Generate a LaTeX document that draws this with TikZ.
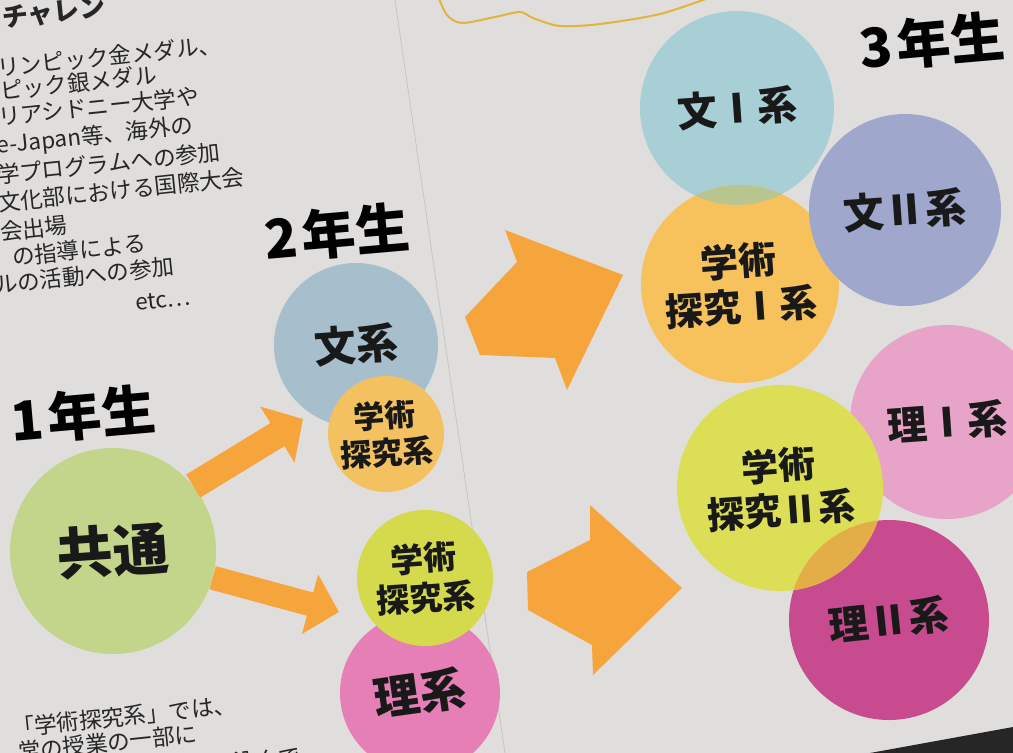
\documentclass[tikz,border=0pt]{standalone}
\usepackage{fontspec}
\newfontfamily\jp{Noto Sans CJK JP}
\usetikzlibrary{arrows.meta}

\definecolor{paper}{HTML}{E0DEDC}
\definecolor{seamc}{HTML}{C9C3C0}
\definecolor{arrowc}{HTML}{F6A53D}
\definecolor{kyotsuc}{HTML}{C2D58A}
\definecolor{bunc}{HTML}{A7BFCC}
\definecolor{gakuoc}{HTML}{F3C160}
\definecolor{gakugc}{HTML}{D5D94C}
\definecolor{ric}{HTML}{E67FB5}
\definecolor{bunic}{HTML}{A8CED6}
\definecolor{gakuic}{HTML}{F7C25C}
\definecolor{lensic}{HTML}{B8C58E}
\definecolor{buniic}{HTML}{9FA7CC}
\definecolor{riic}{HTML}{E8A3C8}
\definecolor{gakuiic}{HTML}{DCDF55}
\definecolor{riiic}{HTML}{C84B8F}
\definecolor{lensiic}{HTML}{E3AD48}
\definecolor{squigc}{HTML}{E2B43C}

\newcommand\jsize[2]{\fontsize{#1}{#2}\selectfont}

\begin{document}
\begin{tikzpicture}[x=1pt,y=-1pt]
 \tikzset{
   % coloured discs
   bubble/.style={circle,inner sep=0pt,minimum size=#1,align=center,text=black!90},
   big/.style={font=\jp\bfseries\jsize{#1}{1.2\dimexpr#1pt\relax}},
   % year headings
   nen/.style={font=\jp\bfseries\jsize{54}{60},inner sep=0pt,rotate=5},
   % hand written notes
   memo/.style={anchor=west,inner sep=0pt,rotate=6,font=\jp\jsize{22.5}{26},text=black!85},
   pfeil/.style={draw=arrowc,line width=#1},
 }
 \useasboundingbox (0,0) rectangle (1013,753);
 \clip (0,0) rectangle (1013,753);
 \fill[paper] (0,0) rectangle (1013,753);
 \draw[seamc,line width=0.8pt] (395,0) -- (505,753);
 \fill[black!85] (870,753) -- (1013,727) -- (1013,760) -- (860,760) -- cycle;
 \draw[squigc,line width=2pt,line cap=round] plot[smooth] coordinates
   {(438,-4) (447,15) (462,23) (495,17) (520,12) (533,18) (560,26) (600,24) (660,14) (714,-4)};

 % notes on the left
 \node[memo,font=\jp\bfseries\jsize{26}{30}] (m0) at (2,18) {チャレン};
 \node[memo] (m1) at (-3,68) {リンピック金メダル、};
 \node[memo] (m2) at (0,91) {ピック銀メダル};
 \node[memo] (m3) at (-2,117) {リアシドニー大学や};
 \node[memo] (m4) at (-3,147) {e-Japan等、海外の};
 \node[memo] (m5) at (-3,175) {学プログラムへの参加};
 \node[memo] (m6) at (-2,203) {文化部における国際大会};
 \node[memo] (m7) at (0,232) {会出場};
 \node[memo] (m8) at (12,257) {の指導による};
 \node[memo] (m9) at (-5,285) {ルの活動への参加};
 \node[memo] (m10) at (135,303) {etc…};
 \node[memo] (m11) at (12,728) {「学術探究系」では、};
 \node[memo] (m12) at (18,752) {常の授業の一部に};
 \node[memo] (m13) at (212,765) {り込んで、};

 % year headings
 \node[nen] (y1) at (83,415) {1\kern5pt 年生};
 \node[nen] (y2) at (337,233) {2\kern5pt 年生};
 \node[nen] (y3) at (932,42) {3\kern5pt 年生};

 % 1st year
 \node[bubble=206pt,fill=kyotsuc,big=56,rotate=4] (kyotsu) at (113,551) {共通};

 % 2nd year
 \node[bubble=164pt,fill=bunc,big=42,rotate=4] (bun) at (356,345) {文系};
 \node[bubble=116pt,fill=gakuoc,big=31,rotate=4] (gakuo) at (386,434) {学術\\探究系};
 \node[bubble=160pt,fill=ric,big=46,rotate=8] (ri) at (420,693) {理系};
 \node[bubble=136pt,fill=gakugc,big=33,rotate=4] (gakug) at (425,578) {学術\\探究系};

 % 3rd year
 \node[bubble=194pt,fill=bunic,big=40,rotate=4] (buni) at (737,108) {文Ⅰ系};
 \node[bubble=198pt,fill=gakuic,big=38,rotate=4,
   path picture={\fill[lensic] (buni.center) circle[radius=97];}] (gakui) at (740,284) {学術\\探究Ⅰ系};
 \node[bubble=192pt,fill=buniic,big=41,rotate=4] (bunii) at (905,210) {文Ⅱ系};
 \node[bubble=194pt,fill=riic,big=40,rotate=4] (rii) at (947,422) {理Ⅰ系};
 \node[bubble=200pt,fill=riiic,big=40,rotate=6] (riii) at (889,620) {理Ⅱ系};
 \node[bubble=206pt,fill=gakuiic,big=37,rotate=4,
   path picture={\fill[lensiic] (riii.center) circle[radius=100];}] (gakuii) at (780,488) {学術\\探究Ⅱ系};

 % arrows
 \coordinate (p1) at (303,419);
 \coordinate (p2) at (339,612);
 \draw[pfeil=27pt,-{Triangle[length=30pt,width=64pt]}] (kyotsu.35) -- (p1);
 \draw[pfeil=24pt,-{Triangle[length=30pt,width=60pt]}] (kyotsu.-19) -- (p2);
 \fill[arrowc] (505,230) -- (517,262) -- (465,317) -- (480,355) -- (555,358)
   -- (567,390) -- (623,275) -- cycle;
 \fill[arrowc] (590,505) -- (590,540) -- (527,572) -- (528,610) -- (592,645)
   -- (593,675) -- (682,588) -- cycle;
\end{tikzpicture}
\end{document}
